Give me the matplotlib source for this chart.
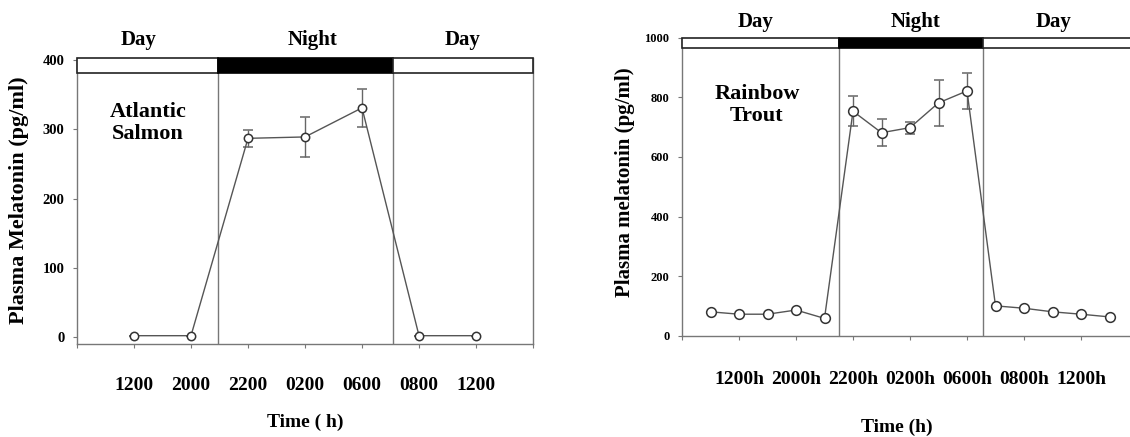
import matplotlib
matplotlib.use("Agg")
import matplotlib.pyplot as plt
from matplotlib.patches import Rectangle

plt.rcParams['font.family'] = ['Liberation Serif', 'DejaVu Serif']
plt.rcParams['font.weight'] = 'bold'

# ---- Data: Atlantic Salmon ----
salmon_x = [1, 2, 3, 4, 5, 6, 7]
salmon_y = [2, 2, 287, 289, 331, 2, 2]
salmon_err = [0, 0, 12, 29, 27, 0, 0]
salmon_ticklabels = ['', '1200', '2000', '2200', '0200', '0600', '0800', '1200', '']
salmon_yticks = [0, 100, 200, 300, 400]
salmon_night = (2.47, 5.54)

# ---- Data: Rainbow Trout ----
trout_x = [0.5, 1, 1.5, 2, 2.5, 3, 3.5, 4, 4.5, 5, 5.5, 6, 6.5, 7, 7.5]
trout_y = [81, 73, 73, 87, 59, 753, 681, 698, 781, 821, 101, 93, 81, 73, 64]
trout_err = [0, 0, 0, 0, 0, 50, 46, 20, 78, 59, 0, 0, 0, 0, 0]
trout_ticklabels = ['', '1200h', '2000h', '2200h', '0200h', '0600h', '0800h', '1200h', '']
trout_yticks = [0, 200, 400, 600, 800, 1000]
trout_night = (2.75, 5.28)

W, H = 1130, 437
fig = plt.figure(figsize=(W / 100, H / 100), dpi=100)

def fx(px):
    return px / W

def fy(py):
    return 1 - py / H

SPINE = '#777777'
LINE = '#555555'


def panel(ax, x, y, err, xmax, ylim, yticks, ticklabels, night, bar_lo, ms,
          ytick_fs, xpad):
    ax.set_xlim(0, xmax)
    ax.set_ylim(*ylim)
    ax.spines['top'].set_visible(False)
    for s in ['left', 'bottom', 'right']:
        ax.spines[s].set_color(SPINE)
        ax.spines[s].set_linewidth(1.0)
    # day / night bar
    n0, n1 = night
    top = ylim[1]
    ax.add_patch(Rectangle((0, bar_lo), n0, top - bar_lo, facecolor='white',
                           edgecolor='#222222', lw=1.2, clip_on=False, zorder=3))
    ax.add_patch(Rectangle((n0, bar_lo), n1 - n0, top - bar_lo, facecolor='black',
                           edgecolor='black', lw=1.2, clip_on=False, zorder=3))
    ax.add_patch(Rectangle((n1, bar_lo), xmax - n1, top - bar_lo, facecolor='white',
                           edgecolor='#222222', lw=1.2, clip_on=False, zorder=3))
    for n in night:
        ax.plot([n, n], [ylim[0], bar_lo], color=SPINE, lw=1.0, zorder=1)
    ax.errorbar(x, y, yerr=err, fmt='-', color=LINE, lw=1.0, ecolor='#666666',
                elinewidth=1.0, capsize=3.5, capthick=1.0, zorder=4,
                marker='o', ms=ms, mfc='white', mec='#333333', mew=1.1)
    ax.set_xticks(range(len(ticklabels)))
    ax.set_xticklabels(ticklabels, fontsize=14, fontweight='bold')
    ax.set_yticks(yticks)
    ax.set_yticklabels([str(t) for t in yticks], fontsize=ytick_fs, fontweight='bold')
    ax.tick_params(axis='x', direction='out', length=3, width=0.8, color=SPINE,
                   pad=xpad)
    ax.tick_params(axis='y', direction='out', length=3, width=0.8, color=SPINE,
                   pad=6)
    ax.patch.set_visible(False)


# Left panel
axL = fig.add_axes([fx(77), fy(344), fx(533 - 77), (344 - 58) / H])
panel(axL, salmon_x, salmon_y, salmon_err, 8, (-10, 403), salmon_yticks,
      salmon_ticklabels, salmon_night, 382, 6, 10.5, 20.5)

# Right panel
axR = fig.add_axes([fx(682), fy(336), fx(456), (336 - 37.5) / H])
panel(axR, trout_x, trout_y, trout_err, 8, (0, 1000), trout_yticks,
      trout_ticklabels, trout_night, 966, 7, 9, 22)

# Top labels
for txt, px in [('Day', 139), ('Night', 313), ('Day', 463)]:
    fig.text(fx(px), fy(40), txt, ha='center', va='center', fontsize=15,
             fontweight='bold')
for txt, px in [('Day', 756), ('Night', 916), ('Day', 1054)]:
    fig.text(fx(px), fy(22), txt, ha='center', va='center', fontsize=15,
             fontweight='bold')

# Panel names
fig.text(fx(148), fy(123), 'Atlantic\nSalmon', ha='center', va='center',
         fontsize=16, fontweight='bold', linespacing=1.1)
fig.text(fx(757), fy(105), 'Rainbow\nTrout', ha='center', va='center',
         fontsize=16, fontweight='bold', linespacing=1.1)

# Axis labels
fig.text(fx(19), fy(200), 'Plasma Melatonin (pg/ml)', rotation=90, ha='center',
         va='center', fontsize=16, fontweight='bold')
fig.text(fx(625), fy(182), 'Plasma melatonin (pg/ml)', rotation=90, ha='center',
         va='center', fontsize=15, fontweight='bold')
fig.text(fx(305), fy(422), 'Time ( h)', ha='center', va='center', fontsize=14,
         fontweight='bold')
fig.text(fx(897), fy(427), 'Time (h)', ha='center', va='center', fontsize=14,
         fontweight='bold')

fig.savefig('out.png', dpi=100)
